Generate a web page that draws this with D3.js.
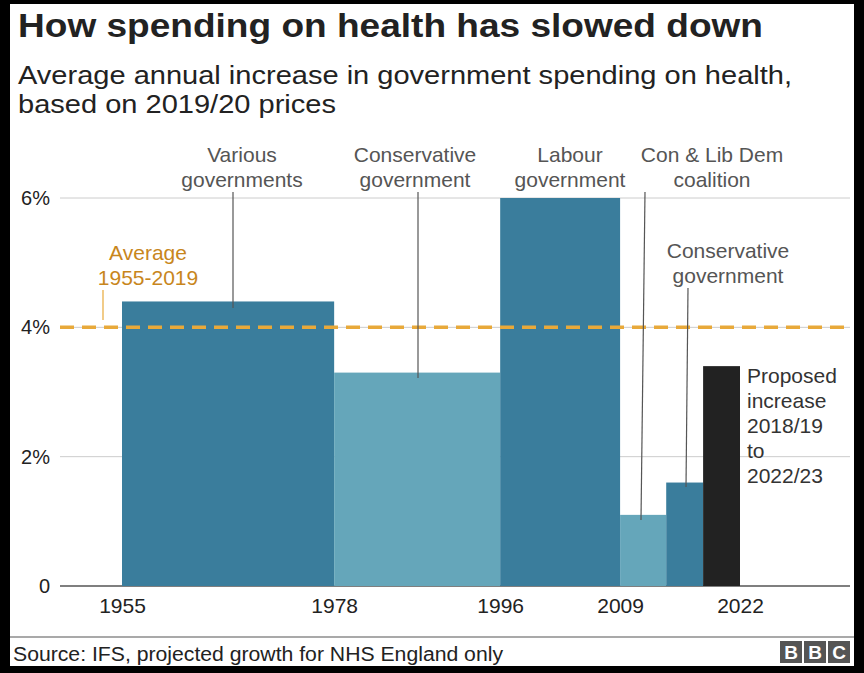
<!DOCTYPE html><html><head><meta charset="utf-8"><script src="https://d3js.org/d3.v7.min.js"></script>
<style>body{margin:0;background:#000}svg{display:block}</style></head><body><svg id="c" width="864" height="673"></svg>
<script>
const periods=[[1955,1978],[1978,1996],[1996,2009],[2009,2014],[2014,2018],[2018,2022]];
const values=[4.4,3.3,6.0,1.1,1.6,3.4];
const colors=["#3a7d9c","#65a6ba","#3a7d9c","#65a6ba","#3a7d9c","#222222"];
const xTicks=[1955,1978,1996,2009,2022];
const yTicks=[0,2,4,6];
const average=4.0;
const svg=d3.select("#c");
const F="Liberation Sans, Arial, sans-serif";
svg.append("rect").attr("x",10).attr("y",4).attr("width",844).attr("height",662).attr("fill","#fff");
const x=d3.scaleLinear().domain([1955,2022]).range([122,740]);
const y=d3.scaleLinear().domain([0,6]).range([586,198]);
const L=60,R=850;
svg.append("text").attr("x",18).attr("y",37).attr("font-family",F).attr("font-weight","bold").attr("font-size",33).attr("textLength",745).attr("lengthAdjust","spacingAndGlyphs").attr("fill","#222").text("How spending on health has slowed down");
[["Average annual increase in government spending on health,",774],["based on 2019/20 prices",318]].forEach((t,i)=>svg.append("text").attr("x",18).attr("y",84+i*29).attr("font-family",F).attr("font-size",25).attr("textLength",t[1]).attr("lengthAdjust","spacingAndGlyphs").attr("fill","#222").text(t[0]));
yTicks.forEach(v=>{
 svg.append("line").attr("x1",L).attr("x2",R).attr("y1",y(v)).attr("y2",y(v)).attr("stroke",v?"#ccc":"#555").attr("stroke-width",v?1:1.5);
 svg.append("text").attr("x",50).attr("y",y(v)+7).attr("text-anchor","end").attr("font-family",F).attr("font-size",20).attr("fill","#222").text(v?v+"%":"0");
});
svg.selectAll(".b").data(values).enter().append("rect").attr("x",(d,i)=>x(periods[i][0])).attr("width",(d,i)=>x(periods[i][1])-x(periods[i][0])).attr("y",d=>y(d)).attr("height",d=>y(0)-y(d)).attr("fill",(d,i)=>colors[i]);
svg.append("line").attr("x1",L).attr("x2",R).attr("y1",y(average)).attr("y2",y(average)).attr("stroke","#e8a93a").attr("stroke-width",3.5).attr("stroke-dasharray","14,8");
const ax=svg.append("g").attr("transform","translate(0,586)").call(d3.axisBottom(x).tickValues(xTicks).tickFormat(d3.format("d")).tickSize(0).tickPadding(12));
ax.select(".domain").remove();
ax.selectAll("text").attr("font-family",F).attr("font-size",21).attr("fill","#222");
function lbl(lines,cx,y0,anchor,col){lines.forEach((t,i)=>svg.append("text").attr("x",cx).attr("y",y0+i*25).attr("text-anchor",anchor||"middle").attr("font-family",F).attr("font-size",21).attr("fill",col||"#555").text(t));}
function lead(x1,y1,x2,y2,col){svg.append("line").attr("x1",x1).attr("y1",y1).attr("x2",x2).attr("y2",y2).attr("stroke",col||"#555").attr("stroke-width",1.2);}
lbl(["Various","governments"],242,162);lead(233,192,233,308);
lbl(["Conservative","government"],415,162);lead(418,192,418,378);
lbl(["Labour","government"],570,162);
lbl(["Con & Lib Dem","coalition"],712,162);lead(645,192,641,520);
lbl(["Conservative","government"],728,258);lead(688,288,686,487);
lbl(["Proposed","increase","2018/19","to","2022/23"],747,383,"start","#333");
lbl(["Average","1955-2019"],148,260,"middle","#c8861c");lead(103,290,103,320,"#e8a93a");
svg.append("line").attr("x1",10).attr("x2",854).attr("y1",637).attr("y2",637).attr("stroke","#555").attr("stroke-width",1.2);
svg.append("text").attr("x",13).attr("y",661).attr("font-family",F).attr("font-size",20).attr("textLength",490).attr("lengthAdjust","spacingAndGlyphs").attr("fill","#222").text("Source: IFS, projected growth for NHS England only");
["B","B","C"].forEach((t,i)=>{svg.append("rect").attr("x",780+i*24).attr("y",641).attr("width",22).attr("height",22).attr("fill","#555");
 svg.append("text").attr("x",791+i*24).attr("y",659).attr("text-anchor","middle").attr("font-family",F).attr("font-weight","bold").attr("font-size",19).attr("fill","#fff").text(t);});
</script></body></html>
